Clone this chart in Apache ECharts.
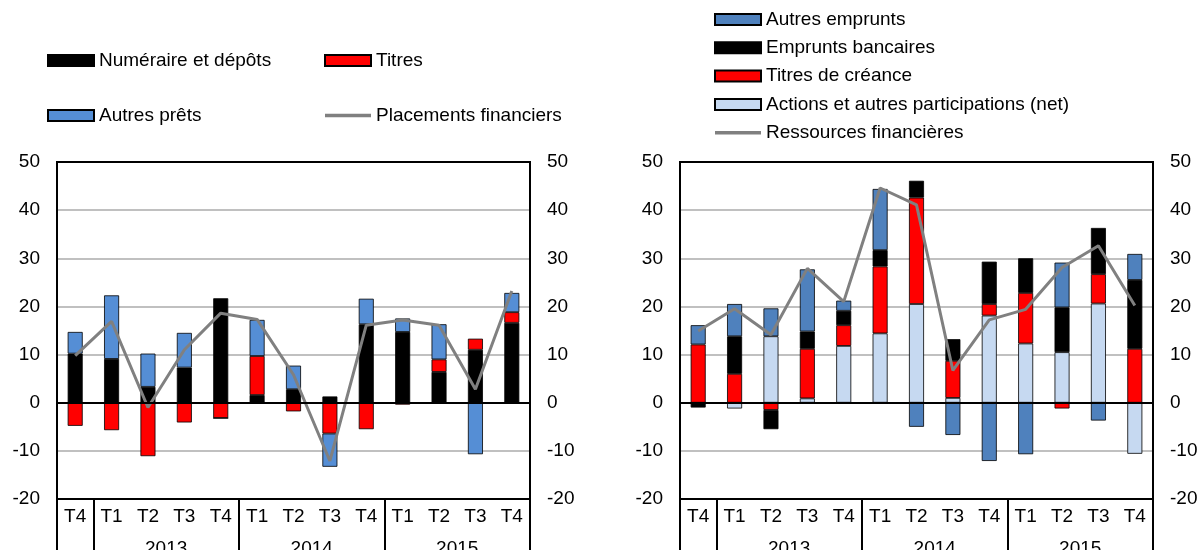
<!DOCTYPE html>
<html>
<head>
<meta charset="utf-8">
<script src="https://cdn.jsdelivr.net/npm/echarts@6/dist/echarts.min.js"></script>
<style>
html, body { margin: 0; padding: 0; background: #fff; }
#main { width: 1200px; height: 550px; }
</style>
</head>
<body>
<div id="main"></div>
<script>
// trimestres et années (axe du bas)
var quarters = ['T4', 'T1', 'T2', 'T3', 'T4', 'T1', 'T2', 'T3', 'T4', 'T1', 'T2', 'T3', 'T4'];
var years = ['2013', '2014', '2015'];

// graphique de gauche : placements financiers
var numeraire   = [10.2, 9.1, 3.3, 7.3, 21.7, 1.6, 2.8, 1.3, 16.3, 14.7, 6.4, 11.0, 16.6];
var titres      = [-4.8, -5.7, -11.1, -4.1, -3.2, 8.1, -1.8, -6.4, -5.5, -0.4, 2.6, 2.3, 2.2];
var autresPrets = [4.5, 13.2, 6.9, 7.2, 0, 7.5, 4.9, -6.9, 5.3, 2.8, 7.3, -10.7, 4.0];
var placements  = [9.8, 16.9, -1.0, 11.0, 18.6, 17.3, 5.8, -12.1, 16.1, 17.2, 16.1, 2.8, 23.2];

// graphique de droite : ressources financières
var actions           = [0, -1.2, 13.8, 0.9, 11.8, 14.4, 20.5, 1.0, 18.1, 12.3, 10.5, 20.6, -10.6];
var titresCreance     = [12.1, 6.0, -1.5, 10.3, 4.3, 13.9, 22.1, 7.7, 2.4, 10.5, -1.2, 6.1, 11.2];
var empruntsBancaires = [-1.0, 7.8, -4.0, 3.6, 3.0, 3.4, 3.5, 4.5, 8.8, 7.2, 9.3, 9.6, 14.3];
var autresEmprunts    = [4.0, 6.7, 5.8, 12.9, 2.1, 12.7, -5.0, -6.7, -12.1, -10.7, 9.3, -3.7, 5.4];
var ressources        = [14.9, 19.5, 14.1, 27.9, 21.0, 44.6, 41.1, 6.7, 17.2, 19.4, 28.1, 32.6, 20.2];

var FONT = 'Liberation Sans, Arial, sans-serif';
var FS = 19;
var LINE_ICON = 'path://M0,0H46V3.5H0Z';

// séparateurs d'années et positions des libellés, tirés des trimestres
var yearTicks = [0];
var yearLabelPos = [];
var yearByPos = {};
quarters.forEach(function (q, i) {
    if (q === 'T1') {
        yearTicks.push(i);
        var p = i + 2;
        yearLabelPos.push(p);
        yearByPos[p] = years[yearLabelPos.length - 1];
    }
});
yearTicks.push(quarters.length);

var myChart = echarts.init(document.getElementById('main'));

function xAxesFor(g) {
    return [
        {
            type: 'category', gridIndex: g, data: quarters, position: 'bottom',
            axisLine: { onZero: false, lineStyle: { color: '#000', width: 2 } },
            axisTick: { interval: 0, length: 29, lineStyle: { color: '#000', width: 2 } },
            axisLabel: { interval: 0, margin: 8, color: '#000', fontSize: FS, fontFamily: FONT },
            splitLine: { show: false }
        },
        {
            type: 'category', gridIndex: g, data: quarters, position: 'bottom', z: 10,
            axisLine: { onZero: true, lineStyle: { color: '#000', width: 2 } },
            axisTick: { interval: 0, length: 5, lineStyle: { color: '#000', width: 2 } },
            axisLabel: { show: false },
            splitLine: { show: false }
        },
        {
            type: 'value', gridIndex: g, position: 'bottom', min: 0, max: quarters.length,
            axisLine: { show: false, onZero: false },
            axisTick: { show: true, customValues: yearTicks, length: 60, lineStyle: { color: '#000', width: 2 } },
            axisLabel: {
                customValues: yearLabelPos, margin: 40, color: '#000', fontSize: FS, fontFamily: FONT,
                formatter: function (v) { return yearByPos[v] || ''; }
            },
            splitLine: { show: false }
        }
    ];
}

function yAxesFor(g) {
    var base = {
        type: 'value', gridIndex: g, min: -20, max: 50, interval: 10,
        axisLine: { show: true, onZero: false, lineStyle: { color: '#000', width: 2 } },
        axisTick: { show: false },
        axisLabel: { margin: 17, color: '#000', fontSize: FS, fontFamily: FONT }
    };
    return [
        Object.assign({}, base, {
            position: 'left',
            splitLine: { show: true, showMinLine: false, showMaxLine: false, lineStyle: { color: '#c0c0c0', width: 2 } }
        }),
        Object.assign({}, base, { position: 'right', splitLine: { show: false } })
    ];
}

function barSeries(name, data, color, xi, yi, stack) {
    return {
        name: name, type: 'bar', data: data, stack: stack,
        xAxisIndex: xi, yAxisIndex: yi, barWidth: 15,
        itemStyle: { color: color, borderColor: '#000', borderWidth: 0.8 }
    };
}

function lineSeries(name, data, xi, yi) {
    return {
        name: name, type: 'line', data: data, xAxisIndex: xi, yAxisIndex: yi,
        symbol: 'none', z: 5,
        lineStyle: { color: '#808080', width: 3 },
        itemStyle: { color: '#808080' }
    };
}

var legendBase = {
    orient: 'vertical', padding: 0, itemWidth: 46, itemHeight: 11, icon: 'rect',
    textStyle: { color: '#000', fontSize: FS, fontFamily: FONT }
};

option = {
    animation: false,
    legend: [
        Object.assign({}, legendBase, { left: 47, top: 51, itemGap: 36, data: ['Numéraire et dépôts', 'Autres prêts'] }),
        Object.assign({}, legendBase, {
            left: 324, top: 51, itemGap: 36,
            data: ['Titres', { name: 'Placements financiers', icon: LINE_ICON }]
        }),
        Object.assign({}, legendBase, {
            left: 714, top: 10, itemGap: 9.3,
            data: ['Autres emprunts', 'Emprunts bancaires', 'Titres de créance',
                   'Actions et autres participations (net)', { name: 'Ressources financières', icon: LINE_ICON }]
        })
    ],
    grid: [
        { left: 57, right: 670, top: 162, bottom: 51, outerBoundsMode: 'none', containLabel: false,
          show: true, borderColor: '#000', borderWidth: 2 },
        { left: 680, right: 47, top: 162, bottom: 51, outerBoundsMode: 'none', containLabel: false,
          show: true, borderColor: '#000', borderWidth: 2 }
    ],
    xAxis: xAxesFor(0).concat(xAxesFor(1)),
    yAxis: yAxesFor(0).concat(yAxesFor(1)),
    series: [
        barSeries('Numéraire et dépôts', numeraire, '#000000', 0, 0, 'gauche'),
        barSeries('Titres', titres, '#ff0000', 0, 0, 'gauche'),
        barSeries('Autres prêts', autresPrets, '#558ed5', 0, 0, 'gauche'),
        lineSeries('Placements financiers', placements, 0, 0),

        barSeries('Actions et autres participations (net)', actions, '#c6d9f1', 3, 2, 'droite'),
        barSeries('Titres de créance', titresCreance, '#ff0000', 3, 2, 'droite'),
        barSeries('Emprunts bancaires', empruntsBancaires, '#000000', 3, 2, 'droite'),
        barSeries('Autres emprunts', autresEmprunts, '#4f81bd', 3, 2, 'droite'),
        lineSeries('Ressources financières', ressources, 3, 2)
    ]
};

myChart.setOption(option);
</script>
</body>
</html>
